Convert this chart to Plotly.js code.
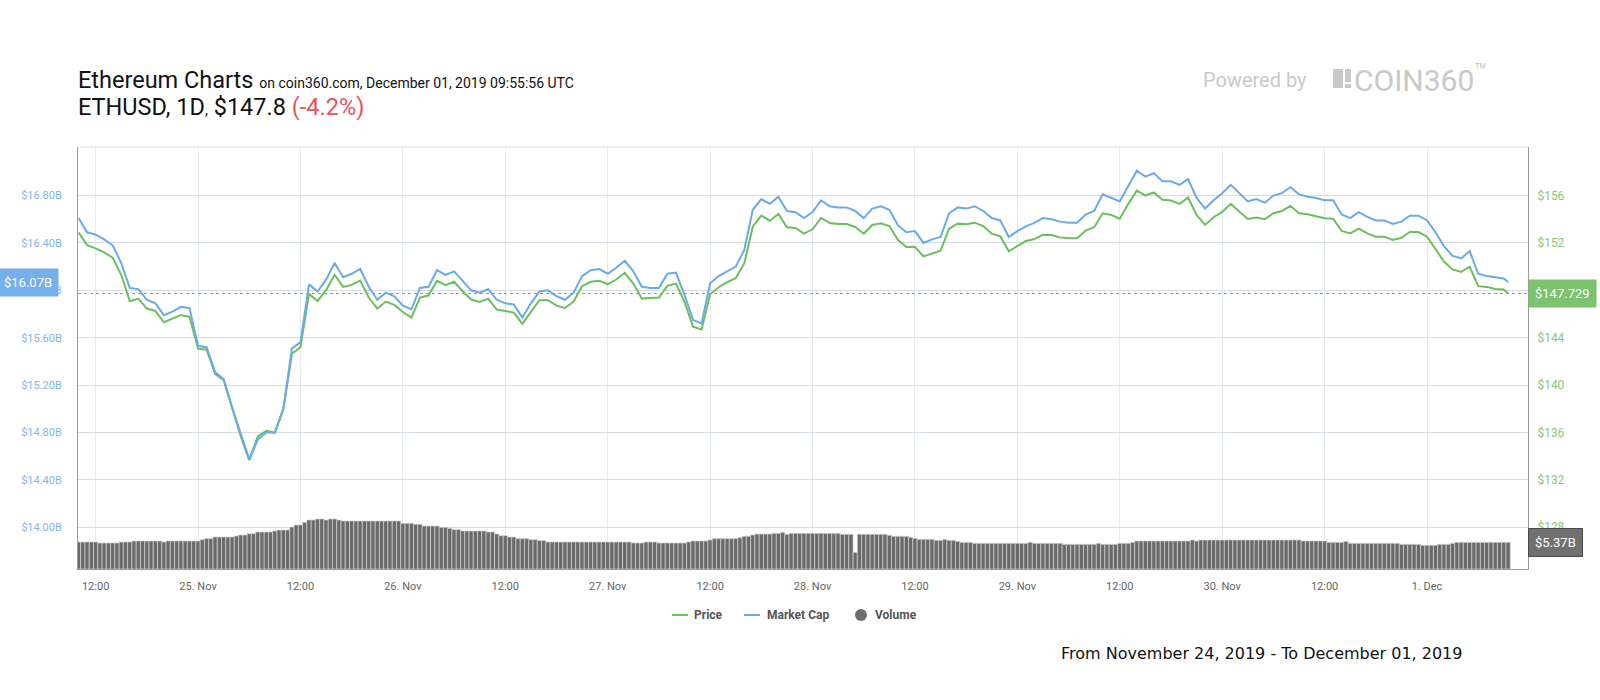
<!DOCTYPE html>
<html>
<head>
<meta charset="utf-8">
<script src="https://cdn.plot.ly/plotly-3.0.1.min.js"></script>
<style>
html,body{margin:0;padding:0;background:#ffffff;}
#chart{width:1600px;height:700px;}
</style>
</head>
<body>
<div id="chart"></div>
<script>
// ---------- DATA ----------
// Hourly samples starting 2019-11-24 10:00 UTC, plus the final point at 09:30 on Dec 1
const priceStart = '2019-11-24T10:00';
const lastTime = '2019-12-01 09:30';

const priceUSD = [
  152.87,151.82,151.54,151.20,150.75,149.31,147.08,147.30,146.46,146.26,145.30,145.58,145.92,145.75,
  143.07,142.98,140.95,140.41,137.98,135.69,133.66,135.66,136.14,135.97,138.01,142.64,143.20,147.70,
  147.10,148.01,149.31,148.29,148.46,148.83,147.39,146.45,147.05,146.77,
  146.17,145.69,147.39,147.56,148.80,148.43,148.72,147.92,147.22,147.02,147.30,146.37,
  146.26,146.12,145.18,146.17,147.16,147.16,146.71,146.51,147.05,148.35,148.72,148.80,
  148.52,148.91,149.48,148.57,147.30,147.36,147.39,148.38,148.57,147.02,144.93,144.70,
  147.67,148.26,148.69,149.03,150.27,153.37,154.31,153.88,154.45,153.32,153.26,152.78,
  153.15,154.11,153.69,153.60,153.60,153.35,152.78,153.52,153.66,153.43,152.27,151.65,
  151.68,150.86,151.09,151.34,153.21,153.63,153.57,153.71,153.43,152.78,152.56,151.29,
  151.74,152.16,152.33,152.70,152.67,152.47,152.39,152.39,153.04,153.32,154.50,154.36,
  154.05,155.30,156.42,156.00,156.26,155.64,155.58,155.30,155.83,154.36,153.52,154.17,
  154.62,155.30,154.65,154.02,154.14,154.00,154.51,154.70,155.13,154.50,154.42,154.28,
  154.08,154.05,153.01,152.81,153.21,152.81,152.53,152.53,152.25,152.44,152.92,152.92,
  152.53,151.48,150.41,149.76,149.56,149.99,148.35,148.29,148.12,148.07,
  147.729
];

const marketCapB = [
  16.61,16.49,16.47,16.43,16.38,16.23,16.02,16.01,15.92,15.89,15.79,15.82,15.86,15.85,
  15.53,15.52,15.31,15.25,15.01,14.78,14.57,14.74,14.80,14.80,15.00,15.51,15.56,16.05,
  15.99,16.09,16.23,16.11,16.14,16.18,16.03,15.92,15.98,15.95,
  15.87,15.84,16.02,16.03,16.17,16.13,16.16,16.08,16.00,15.98,16.01,15.92,
  15.89,15.88,15.77,15.89,15.99,16.00,15.95,15.92,15.98,16.12,16.17,16.18,
  16.14,16.19,16.25,16.16,16.03,16.02,16.02,16.14,16.15,15.96,15.75,15.72,
  16.06,16.12,16.16,16.20,16.34,16.68,16.77,16.73,16.79,16.67,16.66,16.61,
  16.66,16.76,16.71,16.70,16.70,16.67,16.61,16.69,16.71,16.68,16.55,16.49,
  16.50,16.40,16.43,16.45,16.65,16.70,16.69,16.71,16.67,16.61,16.59,16.45,
  16.50,16.54,16.57,16.61,16.60,16.58,16.57,16.57,16.64,16.67,16.81,16.78,
  16.75,16.88,17.01,16.96,16.99,16.92,16.92,16.89,16.94,16.78,16.69,16.76,
  16.82,16.89,16.82,16.75,16.77,16.74,16.80,16.82,16.87,16.81,16.79,16.78,
  16.76,16.76,16.64,16.61,16.66,16.62,16.59,16.59,16.56,16.58,16.63,16.63,
  16.59,16.49,16.37,16.29,16.27,16.33,16.14,16.12,16.11,16.10,
  16.07
];

// 30-minute volume bars starting 2019-11-24 10:00 UTC (billions USD)
const volumeStart = '2019-11-24T10:00';
const volumeB = [
  5.43,5.43,5.43,5.43,5.43, 5.23,5.23,5.23,5.23,5.23, 5.43,5.43,5.43,
  5.63,5.63,5.63,5.63,5.63,5.63,5.63, 5.43, 5.63,5.63,5.63,5.63,5.63,5.63,5.63,5.63,
  5.90, 6.10,6.10, 6.43,6.43,6.43,6.43,6.43, 6.63, 6.83,6.83, 7.10,7.10,
  7.44,7.44,7.44,7.44, 7.64, 7.84,7.84,7.84, 8.44, 8.84,8.84, 9.38, 9.85,9.85,
  10.05,10.05, 9.85, 10.05,10.05, 9.85,
  9.65,9.65,9.65,9.65,9.65,9.65,9.65,9.65,9.65,9.65,9.65,9.65,9.65,9.65,
  9.18,9.18,9.18, 8.98,8.98, 8.64,8.64,8.64,8.64, 8.38,8.38, 8.17, 7.91,7.91,
  7.64,7.64,7.64,7.64,7.64,7.64, 7.44,7.44, 7.04, 6.70,6.70, 6.43,6.43,
  6.10,6.10,6.10, 5.90,5.90, 5.70,5.70,
  5.43,5.43,5.43,5.43,5.43,5.43,5.43,5.43,5.43,5.43,5.43,5.43,5.43,5.43,5.43,5.43,5.43,5.43,5.43,5.43,
  5.23,5.23,5.23, 5.43,5.43,5.43, 5.23,5.23,5.23,5.23,5.23,5.23,5.23, 5.43,
  5.63,5.63,5.63,5.63, 5.83, 6.10,6.10,6.10,6.10,6.10,6.10, 6.30, 6.57,6.57, 6.83,
  7.04,7.04,7.04,7.04, 7.17,7.17, 7.37, 6.97,
  7.17,7.17,7.17,7.17,7.17,7.17,7.17,7.17,7.17,7.17,7.17,7.17,
  6.97,6.97,6.97, 3.35, 6.97,6.97,6.97,6.97,6.97,6.97,6.97,
  6.77, 6.57,6.57,6.57,6.57, 6.37, 6.16, 5.96,5.96,5.96,5.96, 5.76,5.76, 5.96, 5.76,5.76, 5.56,
  5.36,5.36,5.36,
  5.16,5.16,5.16,5.16,5.16,5.16,5.16,5.16,5.16,5.16,5.16,5.16,5.16, 5.36,
  5.16,5.16,5.16,5.16,5.16,5.16,5.16,
  4.96,4.96,4.96,4.96,4.96,4.96,4.96,4.96, 5.16, 4.96,4.96,4.96,4.96, 5.16,5.16,5.16, 5.36,
  5.63,5.63,5.63,5.63,5.63,5.63,5.63,5.63,5.63,5.63,5.63,5.63,5.63, 5.83, 5.63,
  5.83,5.83,5.83,5.83,5.83,5.83,5.83,5.83,5.83,5.83,5.83,5.83,
  5.83,5.83,5.83,5.83,5.83,5.83,5.83,5.83,5.83,5.83,5.83,5.83,
  5.63,5.63,5.63,5.63,5.63,5.63, 5.36,5.36,5.36,5.36, 5.56,
  5.16,5.16,5.16,5.16,5.16,5.16,5.16,5.16,5.16,5.16,5.16,5.16,
  4.96,4.96,4.96,4.96,4.96, 4.76,4.76,4.76,4.76, 4.96,4.96,4.96, 5.16,
  5.36,5.36,5.36,5.36,5.36,5.36,5.36,5.36,5.36,5.36,5.36,5.36,
  5.37
];

const xTickVals = ['2019-11-24 12:00','2019-11-25 00:00','2019-11-25 12:00','2019-11-26 00:00',
  '2019-11-26 12:00','2019-11-27 00:00','2019-11-27 12:00','2019-11-28 00:00','2019-11-28 12:00',
  '2019-11-29 00:00','2019-11-29 12:00','2019-11-30 00:00','2019-11-30 12:00','2019-12-01 00:00'];
const xTickText = ['12:00','25. Nov','12:00','26. Nov','12:00','27. Nov','12:00','28. Nov','12:00',
  '29. Nov','12:00','30. Nov','12:00','1. Dec'];
const priceTicks = [128,132,136,140,144,148,152,156];
const capTicks = [14.0,14.4,14.8,15.2,15.6,16.0,16.4,16.8];

const lastPrice = 147.729;
const lastCap = 16.07;
const lastVolume = 5.37;

// ---------- helpers ----------
function timeGrid(startIso, stepMin, n) {
  const t0 = Date.parse(startIso + ':00Z');
  const out = [];
  for (let i = 0; i < n; i++) {
    out.push(new Date(t0 + i * stepMin * 60000).toISOString().slice(0,16).replace('T',' '));
  }
  return out;
}
const lineTimes = timeGrid(priceStart, 60, priceUSD.length - 1).concat([lastTime]);
const volTimes = timeGrid(volumeStart, 30, volumeB.length);

// plot area in pixels: x 78..1528, y 147..569
const L = 78, R = 1528, T = 147, B = 569;
const px = X => (X - L) / (R - L);
const py = Y => (B - Y) / (B - T);

const GREEN = '#6cbf5c';
const BLUE = '#6aaae8';

const traces = [
  {
    type: 'scatter', mode: 'lines', name: 'Price',
    x: lineTimes, y: priceUSD, yaxis: 'y',
    line: {color: GREEN, width: 2}, hoverinfo: 'skip'
  },
  {
    type: 'scatter', mode: 'lines', name: 'Market Cap',
    x: lineTimes, y: marketCapB, yaxis: 'y2',
    line: {color: BLUE, width: 2}, hoverinfo: 'skip'
  },
  {
    type: 'bar', name: 'Volume',
    x: volTimes, y: volumeB, yaxis: 'y3',
    marker: {color: '#6a6a6a', line: {color: '#d2d2d2', width: 0.7}},
    hoverinfo: 'skip'
  }
];

const gray = '#c9c9c9';
const layout = {
  width: 1600, height: 700,
  margin: {l: L, r: 1600 - R, t: T, b: 700 - B, pad: 0},
  paper_bgcolor: '#ffffff', plot_bgcolor: '#ffffff',
  showlegend: false,
  bargap: 0,
  font: {family: 'Roboto, sans-serif'},
  xaxis: {
    type: 'date',
    range: ['2019-11-24 09:56', '2019-12-01 11:50'],
    tickmode: 'array', tickvals: xTickVals, ticktext: xTickText,
    tickfont: {family: 'Roboto, sans-serif', size: 11, color: '#666666'},
    ticks: '', ticklabelstandoff: 7,
    showgrid: true, gridcolor: '#e6ebf1', gridwidth: 1,
    showline: true, linecolor: '#9a9a9a', linewidth: 1,
    zeroline: false, fixedrange: true
  },
  yaxis: {
    side: 'right',
    range: [124.47, 160.10],
    tickmode: 'array', tickvals: priceTicks, ticktext: priceTicks.map(v => '$' + v),
    tickfont: {family: 'Roboto, sans-serif', size: 12, color: '#86c876'},
    ticks: '', ticklabelstandoff: 6,
    showgrid: true, gridcolor: '#d5dde6', gridwidth: 1,
    showline: true, linecolor: '#9a9a9a', linewidth: 1,
    zeroline: false, fixedrange: true
  },
  yaxis2: {
    overlaying: 'y', side: 'left',
    range: [13.647, 17.21],
    tickmode: 'array', tickvals: capTicks, ticktext: capTicks.map(v => '$' + v.toFixed(2) + 'B'),
    tickfont: {family: 'Roboto, sans-serif', size: 11, color: '#7fb6ea'},
    ticks: '', ticklabelstandoff: 13,
    showgrid: false,
    showline: true, linecolor: '#9a9a9a', linewidth: 1,
    zeroline: false, fixedrange: true
  },
  yaxis3: {
    overlaying: 'y', side: 'right',
    range: [0, 84.8], visible: false, fixedrange: true
  },
  shapes: [
    // top border of the plot
    {type: 'line', xref: 'paper', yref: 'paper', x0: 0, x1: 1, y0: 1, y1: 1,
     line: {color: '#d5dde6', width: 1}},
    // current price dotted line
    {type: 'line', xref: 'paper', yref: 'y', x0: 0, x1: 1, y0: lastPrice, y1: lastPrice,
     line: {color: '#9a9a9a', width: 1, dash: 'dot'}},
    // logo block
    {type: 'rect', xref: 'paper', yref: 'paper', x0: px(1333), x1: px(1343), y0: py(88), y1: py(69),
     fillcolor: gray, line: {width: 0}},
    {type: 'rect', xref: 'paper', yref: 'paper', x0: px(1345), x1: px(1351), y0: py(82), y1: py(69),
     fillcolor: gray, line: {width: 0}},
    {type: 'rect', xref: 'paper', yref: 'paper', x0: px(1345), x1: px(1351), y0: py(88), y1: py(84),
     fillcolor: gray, line: {width: 0}},
    // legend symbols
    {type: 'line', xref: 'paper', yref: 'paper', x0: px(672), x1: px(688), y0: py(615), y1: py(615),
     line: {color: GREEN, width: 2}},
    {type: 'line', xref: 'paper', yref: 'paper', x0: px(744), x1: px(760), y0: py(615), y1: py(615),
     line: {color: BLUE, width: 2}},
    {type: 'circle', xref: 'paper', yref: 'paper', x0: px(855), x1: px(867), y0: py(621), y1: py(609),
     fillcolor: '#6e6e6e', line: {width: 0}}
  ],
  annotations: [
    {xref: 'paper', yref: 'paper', x: px(76), y: py(80), xanchor: 'left', yanchor: 'middle',
     showarrow: false, align: 'left',
     text: 'Ethereum Charts <span style="font-size:14px">on coin360.com, December 01, 2019 09:55:56 UTC</span>',
     font: {family: 'Roboto, sans-serif', size: 23.5, color: '#111111'}},
    {xref: 'paper', yref: 'paper', x: px(76), y: py(107), xanchor: 'left', yanchor: 'middle',
     showarrow: false, align: 'left',
     text: 'ETHUSD, 1D<span style="font-size:15px">,</span> $147.8 <span style="color:#e9535a">(-4.2%)</span>',
     font: {family: 'Roboto, sans-serif', size: 23.5, color: '#111111'}},
    {xref: 'paper', yref: 'paper', x: px(1201), y: py(80), xanchor: 'left', yanchor: 'middle',
     showarrow: false, text: 'Powered by',
     font: {family: 'Roboto, sans-serif', size: 20, color: gray}},
    {xref: 'paper', yref: 'paper', x: px(1352), y: py(79), xanchor: 'left', yanchor: 'middle',
     showarrow: false, text: 'COIN360<sup>™</sup>',
     font: {family: 'Roboto, sans-serif', size: 30, color: gray}},
    // axis value boxes
    {xref: 'paper', yref: 'y', x: 1, y: lastPrice, xanchor: 'left', yanchor: 'middle',
     showarrow: false, text: '$' + lastPrice.toFixed(3), bgcolor: '#7dc26e', borderpad: 6,
     font: {family: 'Roboto, sans-serif', size: 13, color: '#ffffff'}},
    {xref: 'paper', yref: 'y2', x: 0, y: lastCap, xanchor: 'right', xshift: -19, yanchor: 'middle',
     showarrow: false, text: '$' + lastCap.toFixed(2) + 'B', bgcolor: '#74b0ea', borderpad: 6,
     font: {family: 'Roboto, sans-serif', size: 13, color: '#ffffff'}},
    {xref: 'paper', yref: 'y3', x: 1, y: lastVolume, xanchor: 'left', yanchor: 'middle',
     showarrow: false, text: '$' + lastVolume.toFixed(2) + 'B', bgcolor: '#707070',
     bordercolor: '#4a4a4a', borderwidth: 1, borderpad: 6,
     font: {family: 'Roboto, sans-serif', size: 13, color: '#ffffff'}},
    // legend texts
    {xref: 'paper', yref: 'paper', x: px(692), y: py(615), xanchor: 'left', yanchor: 'middle',
     showarrow: false, text: '<b>Price</b>',
     font: {family: 'Roboto, sans-serif', size: 12, color: '#555555'}},
    {xref: 'paper', yref: 'paper', x: px(765), y: py(615), xanchor: 'left', yanchor: 'middle',
     showarrow: false, text: '<b>Market Cap</b>',
     font: {family: 'Roboto, sans-serif', size: 12, color: '#555555'}},
    {xref: 'paper', yref: 'paper', x: px(873), y: py(615), xanchor: 'left', yanchor: 'middle',
     showarrow: false, text: '<b>Volume</b>',
     font: {family: 'Roboto, sans-serif', size: 12, color: '#555555'}},
    // date span footer
    {xref: 'paper', yref: 'paper', x: px(1059), y: py(653), xanchor: 'left', yanchor: 'middle',
     showarrow: false, text: 'From November 24, 2019 - To December 01, 2019',
     font: {family: 'DejaVu Sans, sans-serif', size: 16, color: '#111111'}}
  ]
};

Plotly.newPlot('chart', traces, layout, {staticPlot: true, displayModeBar: false});
</script>
</body>
</html>
